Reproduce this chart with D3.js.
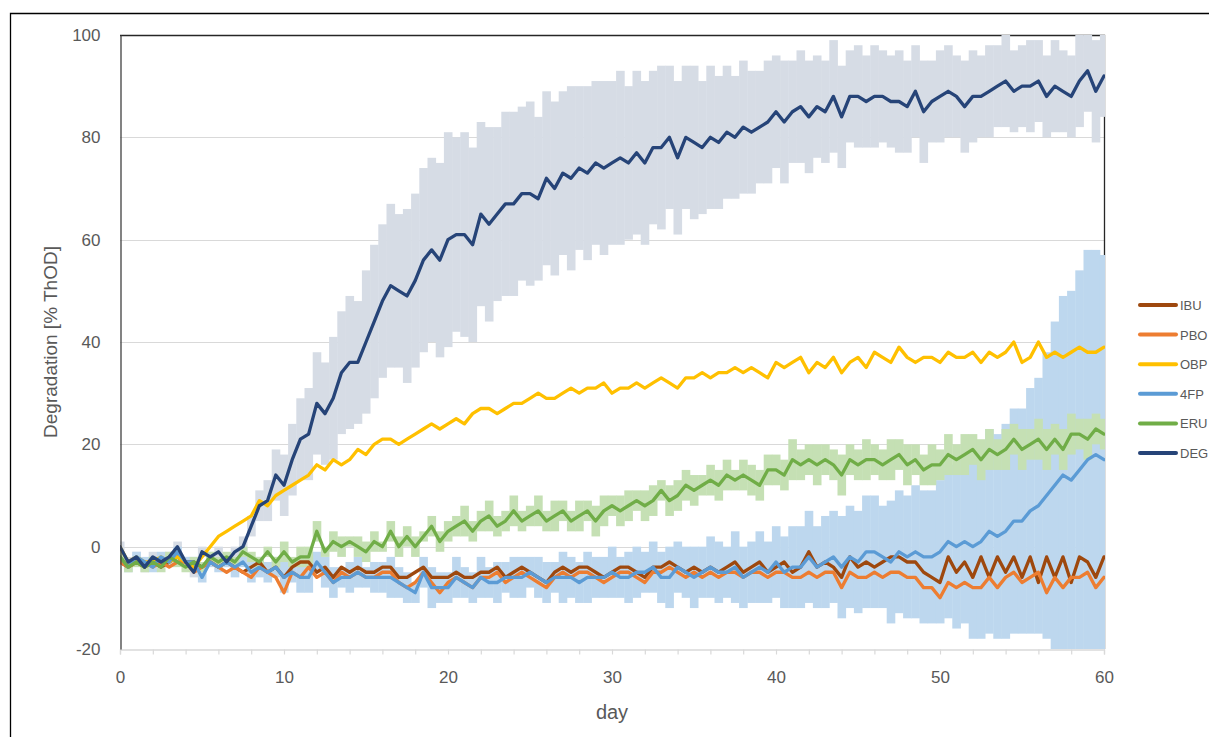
<!DOCTYPE html>
<html>
<head>
<meta charset="utf-8">
<script src="https://cdn.jsdelivr.net/npm/d3@7/dist/d3.min.js"></script>
<style>
  body { margin: 0; background: #fff; }
  svg { display: block; }
  text { font-family: "Liberation Sans", Arial, sans-serif; fill: #595959; }
</style>
</head>
<body>
<div id="chart"></div>
<script>
// sampled every half day, day 0 .. 60
const step = 0.5;

const ibu = [
  -3,-4,-3,-4,-3,-4,-3,-2,-3,-3,  -4,-3,-4,-3,-4,-5,-4,-3,-5,-4,
  -6,-4,-3,-3,-5,-4,-6,-4,-5,-4,  -5,-5,-4,-4,-6,-6,-5,-4,-6,-6,
  -6,-5,-6,-6,-5,-5,-4,-6,-5,-4,  -5,-6,-7,-5,-4,-5,-4,-4,-5,-6,
  -5,-4,-4,-5,-6,-4,-4,-3,-4,-5,  -4,-5,-4,-5,-4,-3,-5,-4,-3,-5,
  -4,-3,-5,-4,-1,-4,-3,-4,-6,-2,  -4,-3,-4,-3,-2,-2,-3,-3,-5,-6,
  -7,-2,-5,-3,-6,-2,-6,-2,-5,-2,  -6,-2,-7,-2,-6,-2,-7,-2,-3,-6,
  -2
];
const pbo = [
  -3,-4,-3,-3,-4,-3,-4,-3,-3,-5,  -4,-3,-4,-5,-4,-5,-6,-4,-5,-6,
  -9,-5,-6,-4,-6,-5,-7,-5,-6,-5,  -6,-6,-5,-5,-7,-8,-7,-5,-7,-9,
  -7,-6,-7,-8,-6,-6,-5,-7,-6,-5,  -6,-7,-8,-6,-5,-6,-5,-5,-6,-7,
  -6,-5,-5,-6,-7,-5,-5,-4,-5,-6,  -5,-6,-5,-6,-5,-5,-6,-5,-5,-6,
  -5,-5,-6,-6,-5,-6,-5,-5,-8,-5,  -6,-6,-5,-6,-5,-5,-6,-6,-8,-8,
  -10,-7,-8,-7,-8,-8,-6,-8,-6,-5, -7,-6,-5,-9,-6,-8,-6,-6,-5,-8,
  -6
];
const obp = [
  0,-3,-2,-3,-3,-2,-3,-2,-3,-4,  -2,0,2,3,4,5,6,9,8,10,
  11,12,13,14,16,15,17,16,17,19,  18,20,21,21,20,21,22,23,24,23,
  24,25,24,26,27,27,26,27,28,28,  29,30,29,29,30,31,30,31,31,32,
  30,31,31,32,31,32,33,32,31,33,  33,34,33,34,34,35,34,35,34,33,
  36,35,36,37,34,36,35,37,34,36,  37,35,38,37,36,39,37,36,37,37,
  36,38,37,37,38,36,38,37,38,40,  36,37,40,37,38,37,38,39,38,38,
  39
];
const fp4 = [
  -2,-4,-2,-3,-4,-2,-3,-1,-3,-3,  -6,-3,-4,-3,-4,-3,-5,-4,-5,-4,
  -6,-5,-6,-6,-3,-5,-7,-6,-6,-5,  -6,-6,-6,-6,-7,-8,-9,-5,-8,-8,
  -8,-6,-7,-8,-6,-7,-7,-6,-6,-6,  -5,-6,-7,-6,-6,-6,-7,-6,-6,-6,
  -5,-6,-6,-5,-5,-4,-6,-6,-4,-5,  -6,-5,-4,-5,-5,-4,-6,-5,-4,-5,
  -3,-5,-4,-4,-2,-4,-3,-2,-4,-2,  -3,-1,-1,-2,-3,-1,-2,-1,-2,-2,
  -1,1,0,1,0,1,3,2,3,5,  5,7,8,10,12,14,13,15,17,18,
  17
];
const eru = [
  -2,-4,-3,-4,-3,-4,-2,-3,-4,-3,  -4,-2,-3,-2,-3,-1,-2,-3,-1,-3,
  -1,-3,-2,-2,3,-1,1,0,1,0,  -1,1,0,3,0,2,0,2,4,1,
  3,4,5,3,5,6,4,5,7,5,  6,7,5,6,7,5,6,7,5,7,
  8,7,8,9,8,9,11,9,10,12,  11,12,13,12,14,13,14,13,12,15,
  15,14,17,16,17,16,17,16,14,17,  16,17,17,16,17,18,16,17,15,16,
  16,18,17,18,19,17,19,18,19,21,  19,20,21,19,21,19,22,22,21,23,
  22
];
const deg = [
  0,-3,-2,-4,-2,-3,-2,0,-3,-5,  -1,-2,-1,-3,-1,0,4,8,9,14,
  12,17,21,22,28,26,29,34,36,36,  40,44,48,51,50,49,52,56,58,56,
  60,61,61,59,65,63,65,67,67,69,  69,68,72,70,73,72,74,73,75,74,
  75,76,75,77,75,78,78,80,76,80,  79,78,80,79,81,80,82,81,82,83,
  85,83,85,86,84,86,85,88,84,88,  88,87,88,88,87,87,86,89,85,87,
  88,89,88,86,88,88,89,90,91,89,  90,90,91,88,90,89,88,91,93,89,
  92
];

// error bar half widths
const errDeg = [
  1,1,1,1,1,1,1,1,1,1,  1,1,1,1,1,2,2,3,4,5,
  6,7,8,9,10,10,12,12,13,12,  14,15,15,16,15,17,17,18,18,19,
  21,19,20,19,18,19,17,18,18,17,  18,16,17,17,16,18,16,17,16,17,
  16,17,15,16,16,15,16,14,15,14,  15,13,14,13,13,12,13,12,11,12,
  11,12,10,11,11,10,10,11,10,9,  10,9,10,9,9,10,9,9,10,8,
  9,9,8,9,9,8,9,8,9,8,  8,9,8,8,9,8,8,9,8,10,
  8
];
const errFp4 = [
  1,1,1,1,1,1,1,1,1,1,  1,1,1,1,2,1,2,2,2,2,
  3,2,3,3,2,3,3,2,3,3,  2,3,3,4,3,3,2,3,4,3,
  3,4,3,3,4,3,4,3,4,4,  3,4,4,3,5,4,4,5,4,4,
  5,4,5,5,4,5,5,6,5,5,  6,5,6,6,5,7,6,6,7,6,
  7,7,8,8,9,8,9,9,10,10,  10,11,11,10,12,12,12,13,13,13,
  14,15,16,16,18,19,20,20,21,22,  22,24,25,28,32,35,37,39,41,40,
  40
];
const errEru = [
  1,1,1,1,1,1,1,1,1,1,  1,1,1,1,1,1,1,1,1,1,
  2,1,2,2,2,1,2,2,1,2,  2,2,1,2,2,2,2,1,2,2,
  2,2,3,2,2,3,2,2,3,2,  2,3,2,3,2,2,3,2,3,3,
  2,3,3,2,3,3,2,3,3,3,  3,2,3,3,3,2,3,3,3,3,
  3,3,4,3,3,4,3,3,4,3,  3,4,3,3,4,3,4,3,3,4,
  3,4,3,4,3,4,4,3,4,3,  4,3,4,4,3,4,4,3,4,3,
  3
];

const yTicks = [-20, 0, 20, 40, 60, 80, 100];
const xTicks = [0, 10, 20, 30, 40, 50, 60];

const series = [
  { name: 'IBU', values: ibu, color: '#9e480e' },
  { name: 'PBO', values: pbo, color: '#ed7d31' },
  { name: 'OBP', values: obp, color: '#ffc000' },
  { name: '4FP', values: fp4, color: '#5b9bd5' },
  { name: 'ERU', values: eru, color: '#70ad47' },
  { name: 'DEG', values: deg, color: '#264478' }
];
const bands = [
  { values: deg, err: errDeg, color: '#d6dce5' },
  { values: fp4, err: errFp4, color: '#bdd7ee' },
  { values: eru, err: errEru, color: '#c5e0b4' }
];

const width = 1209, height = 737;
const plot = { left: 120, right: 1104, top: 35, bottom: 649 };

const svg = d3.select('#chart').append('svg')
  .attr('width', width)
  .attr('height', height);

// outer frame
svg.append('path')
  .attr('d', `M10.5,${height}V13.5H${width}`)
  .attr('fill', 'none')
  .attr('stroke', '#000')
  .attr('stroke-width', 1.3);

const x = d3.scaleLinear().domain([0, 60]).range([plot.left, plot.right]);
const y = d3.scaleLinear().domain([-20, 100]).range([plot.bottom, plot.top]);

// grid
svg.append('g').selectAll('line')
  .data(yTicks.filter(v => v > -20 && v < 100))
  .join('line')
  .attr('x1', plot.left).attr('x2', plot.right)
  .attr('y1', d => Math.round(y(d)) + 0.5).attr('y2', d => Math.round(y(d)) + 0.5)
  .attr('stroke', '#d9d9d9')
  .attr('stroke-width', 1.2);

// plot frame top / right
svg.append('path')
  .attr('d', `M${plot.left},${plot.top + 0.5}H${plot.right + 0.5}V${plot.bottom}`)
  .attr('fill', 'none')
  .attr('stroke', '#262626')
  .attr('stroke-width', 1.3);

svg.append('clipPath').attr('id', 'clip')
  .append('rect')
  .attr('x', plot.left).attr('y', plot.top)
  .attr('width', plot.right - plot.left + 1)
  .attr('height', plot.bottom - plot.top);

const g = svg.append('g').attr('clip-path', 'url(#clip)');

// error bars
const barW = x(step) - x(0);
bands.forEach(b => {
  g.append('g').selectAll('rect')
    .data(b.values.map((v, i) => ({ day: i * step, v: v, e: b.err[i] })))
    .join('rect')
    .attr('x', d => x(d.day) - barW / 2)
    .attr('width', barW + 0.4)
    .attr('y', d => y(d.v + d.e))
    .attr('height', d => y(d.v - d.e) - y(d.v + d.e))
    .attr('fill', b.color);
});

// lines
const line = d3.line()
  .x((d, i) => x(i * step))
  .y(d => y(d));

series.forEach(s => {
  g.append('path')
    .datum(s.values)
    .attr('d', line)
    .attr('fill', 'none')
    .attr('stroke', s.color)
    .attr('stroke-width', 3.3)
    .attr('stroke-linejoin', 'round')
    .attr('stroke-linecap', 'round');
});

// x axis
const xAxis = d3.axisBottom(x)
  .tickValues(d3.range(0, 61, 2))
  .tickSize(5)
  .tickPadding(16)
  .tickFormat(d => xTicks.includes(d) ? String(d) : '');

const xg = svg.append('g')
  .attr('transform', `translate(0,${plot.bottom + 0.5})`)
  .call(xAxis);
xg.select('.domain').attr('stroke', '#d9d9d9').attr('stroke-width', 1.3);
xg.selectAll('.tick line').attr('stroke', '#d9d9d9').attr('stroke-width', 1.2);
xg.selectAll('.tick text').attr('font-size', 17).attr('fill', '#595959');

// y axis
const yAxis = d3.axisLeft(y)
  .tickValues(yTicks)
  .tickSize(0)
  .tickPadding(20)
  .tickFormat(d => String(d));

const yg = svg.append('g')
  .attr('transform', `translate(${plot.left + 0.5},0)`)
  .call(yAxis);
yg.select('.domain').attr('stroke', '#404040').attr('stroke-width', 1.3);
yg.selectAll('.tick text').attr('font-size', 17).attr('fill', '#595959');

// axis titles
svg.append('text')
  .attr('x', (plot.left + plot.right) / 2)
  .attr('y', 719)
  .attr('text-anchor', 'middle')
  .attr('font-size', 20)
  .text('day');

svg.append('text')
  .attr('transform', `translate(57,${(plot.top + plot.bottom) / 2}) rotate(-90)`)
  .attr('text-anchor', 'middle')
  .attr('font-size', 19)
  .text('Degradation [% ThOD]');

// legend
const legend = svg.append('g').attr('transform', 'translate(1140,305)');
series.forEach((s, i) => {
  const row = legend.append('g').attr('transform', `translate(0,${i * 29.6})`);
  row.append('line')
    .attr('x1', 0).attr('x2', 36)
    .attr('stroke', s.color)
    .attr('stroke-width', 4)
    .attr('stroke-linecap', 'round');
  row.append('text')
    .attr('x', 40).attr('y', 5)
    .attr('font-size', 13)
    .text(s.name);
});
</script>
</body>
</html>
